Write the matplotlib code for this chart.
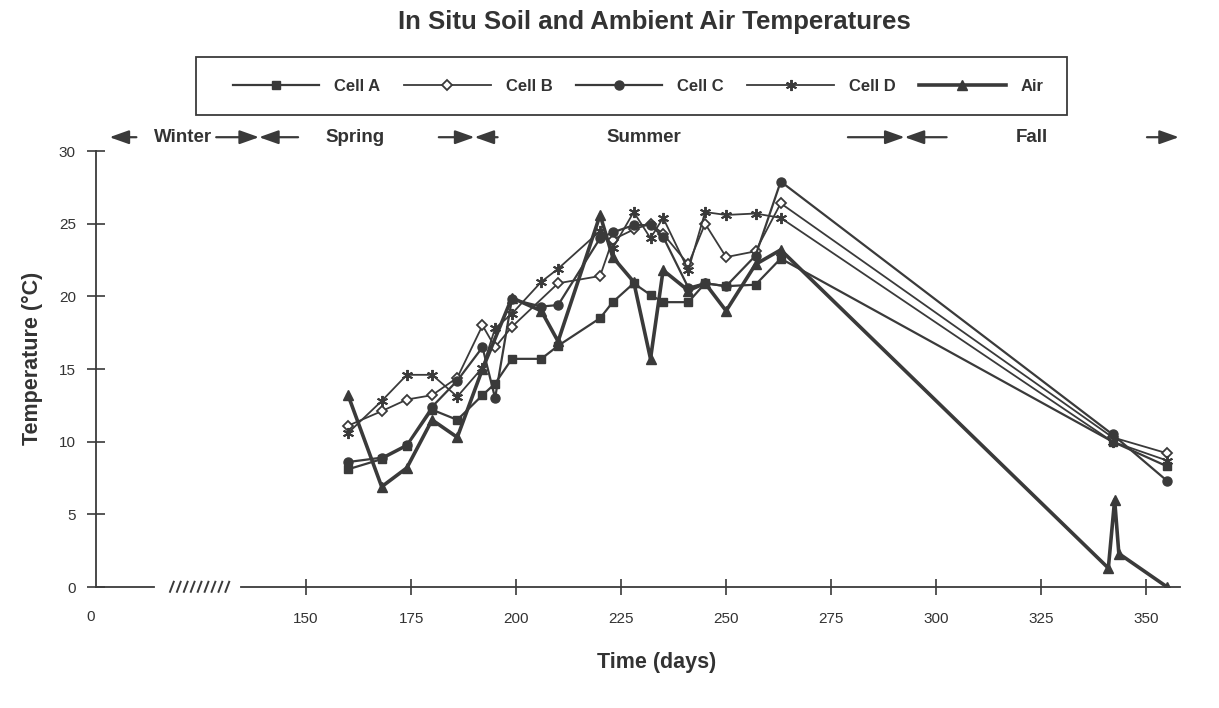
import matplotlib
matplotlib.use('Agg')
import matplotlib.pyplot as plt
from matplotlib.lines import Line2D
from matplotlib.patches import Rectangle

plt.rcParams['font.family'] = ['Liberation Sans', 'DejaVu Sans']
ink = '#3a3a3a'

# данные (день года, температура °C)
days_a = [160, 168, 174, 180, 186, 192, 195, 199, 206, 210, 220, 223, 228, 232, 235, 241, 245, 250, 257, 263, 342, 355]
cell_a = [8.1, 8.8, 9.7, 12.2, 11.5, 13.2, 14.0, 15.7, 15.7, 16.6, 18.5, 19.6, 20.9, 20.1, 19.6, 19.6, 20.9, 20.7, 20.8, 22.6, 10.0, 8.3]

days_b = [160, 168, 174, 180, 186, 192, 195, 199, 210, 220, 223, 228, 232, 235, 241, 245, 250, 257, 263, 342, 355]
cell_b = [11.1, 12.1, 12.9, 13.2, 14.4, 18.0, 16.5, 17.9, 20.9, 21.4, 23.9, 24.6, 25.0, 24.3, 22.2, 25.0, 22.7, 23.1, 26.4, 10.3, 9.2]

days_c = [160, 168, 174, 180, 186, 192, 195, 199, 206, 210, 220, 223, 228, 232, 235, 241, 245, 250, 257, 263, 342, 355]
cell_c = [8.6, 8.9, 9.8, 12.4, 14.2, 16.5, 13.0, 19.8, 19.3, 19.4, 24.0, 24.4, 24.9, 24.9, 24.1, 20.6, 20.9, 20.7, 22.8, 27.9, 10.5, 7.3]

days_d = [160, 168, 174, 180, 186, 192, 195, 199, 206, 210, 220, 223, 228, 232, 235, 241, 245, 250, 257, 263, 342, 355]
cell_d = [10.6, 12.8, 14.6, 14.6, 13.1, 15.1, 17.8, 18.8, 21.0, 21.9, 24.5, 23.3, 25.8, 24.0, 25.4, 21.8, 25.8, 25.6, 25.7, 25.4, 10.0, 8.7]

days_air = [160, 168, 174, 180, 186, 192, 199, 206, 210, 220, 223, 228, 232, 235, 241, 245, 250, 257, 263, 341, 342.5, 343.5, 355]
air = [13.2, 6.9, 8.2, 11.5, 10.3, 15.0, 19.9, 19.0, 16.9, 25.6, 22.7, 21.0, 15.7, 21.8, 20.4, 20.9, 19.0, 22.2, 23.2, 1.3, 6.0, 2.3, 0.0]

# сезоны: подписи и стрелки (хвост, голова) в днях
season_names = ['Winter', 'Spring', 'Summer', 'Fall']
season_pos = [120.8, 161.6, 230.5, 322.9]
season_arrows = [(109.6, 103.2), (128.6, 138.8), (148.1, 138.8), (181.6, 190.1),
                 (195.6, 190.1), (279.0, 292.5), (302.5, 292.5), (350.2, 357.8)]

xticks = [150, 175, 200, 225, 250, 275, 300, 325, 350]
xlabels = ['150', '175', '200', '225', '250', '275', '300', '325', '350']

fig = plt.figure(figsize=(12.19, 7.08), dpi=100)
ax = fig.add_axes([0.0788, 0.1709, 0.889, 0.6158])

ax.plot(days_a, cell_a, color=ink, lw=1.6, marker='s', ms=6, mfc=ink, mec=ink)
ax.plot(days_b, cell_b, color=ink, lw=1.3, marker='D', ms=5.5, mfc='white', mec=ink, mew=1.3)
ax.plot(days_c, cell_c, color=ink, lw=1.6, marker='o', ms=6.5, mfc=ink, mec=ink)
ax.plot(days_d, cell_d, color=ink, lw=1.3, marker=(6, 2, 0), ms=8, mec=ink, mew=1.4)
ax.plot(days_air, air, color=ink, lw=2.6, marker='^', ms=7, mfc=ink, mec=ink)

ax.set_xlim(100, 358)
ax.set_ylim(0, 30)
for s in ['top', 'right', 'bottom']:
    ax.spines[s].set_visible(False)
ax.spines['left'].set_color(ink)
ax.spines['left'].set_linewidth(1.3)

ax.set_yticks(range(0, 31, 5))
ax.set_xticks(xticks)
ax.set_xticklabels(xlabels)
ax.tick_params(axis='y', direction='inout', length=13, width=1.2, color=ink,
               labelsize=11, labelcolor='#333333', pad=8)
ax.tick_params(axis='x', direction='inout', length=12, width=1.2, color=ink,
               labelsize=11, labelcolor='#333333', pad=12)
# подпись "0" у начала разорванной оси
ax.text(98.6, -2.05, '0', ha='center', va='center', fontsize=11, color='#333333', clip_on=False)

# ось x с разрывом
ax.plot([100, 113.9], [0, 0], color=ink, lw=1.3, clip_on=False)
ax.plot([134.6, 358], [0, 0], color=ink, lw=1.3, clip_on=False)
for i in range(9):
    x0 = 117.6 + i * 1.65
    ax.plot([x0, x0 + 0.9], [-0.33, 0.36], color=ink, lw=1.4, clip_on=False)

# сезоны
for name, xpos in zip(season_names, season_pos):
    ax.text(xpos, 30.95, name, ha='center', va='center', fontsize=13.5,
            fontweight='bold', color='#333333', clip_on=False)
for tail, head in season_arrows:
    ax.annotate('', xy=(head, 30.95), xytext=(tail, 30.95),
                arrowprops=dict(arrowstyle='-|>,head_length=0.9,head_width=0.32',
                                color=ink, lw=1.6, shrinkA=0, shrinkB=0,
                                mutation_scale=13),
                annotation_clip=False)

# легенда в рамке
fig.patches.append(Rectangle((0.1608, 0.8376), 0.7145, 0.0819, transform=fig.transFigure,
                             fill=False, edgecolor=ink, lw=1.3))
handles = [
    Line2D([], [], color=ink, lw=1.6, marker='s', ms=6, mfc=ink, mec=ink),
    Line2D([], [], color=ink, lw=1.3, marker='D', ms=5.5, mfc='white', mec=ink, mew=1.3),
    Line2D([], [], color=ink, lw=1.6, marker='o', ms=6.5, mfc=ink, mec=ink),
    Line2D([], [], color=ink, lw=1.3, marker=(6, 2, 0), ms=8, mec=ink, mew=1.4),
    Line2D([], [], color=ink, lw=2.6, marker='^', ms=7, mfc=ink, mec=ink),
]
leg = fig.legend(handles, ['Cell A', 'Cell B', 'Cell C', 'Cell D', 'Air'], ncol=5,
                 loc='center', bbox_to_anchor=(0.5236, 0.8785), frameon=False,
                 handlelength=5.2, handletextpad=0.9, columnspacing=1.4,
                 prop={'weight': 'bold', 'size': 12})
for t in leg.get_texts():
    t.set_color('#333333')

fig.text(0.537, 0.969, 'In Situ Soil and Ambient Air Temperatures', ha='center', va='center',
         fontsize=18.5, fontweight='bold', color='#333333')
fig.text(0.027, 0.494, 'Temperature (°C)', rotation=90, ha='center', va='center',
         fontsize=15.5, fontweight='bold', color='#333333')
fig.text(0.539, 0.0636, 'Time (days)', ha='center', va='center',
         fontsize=15.5, fontweight='bold', color='#333333')

fig.savefig('out.png', dpi=100)
